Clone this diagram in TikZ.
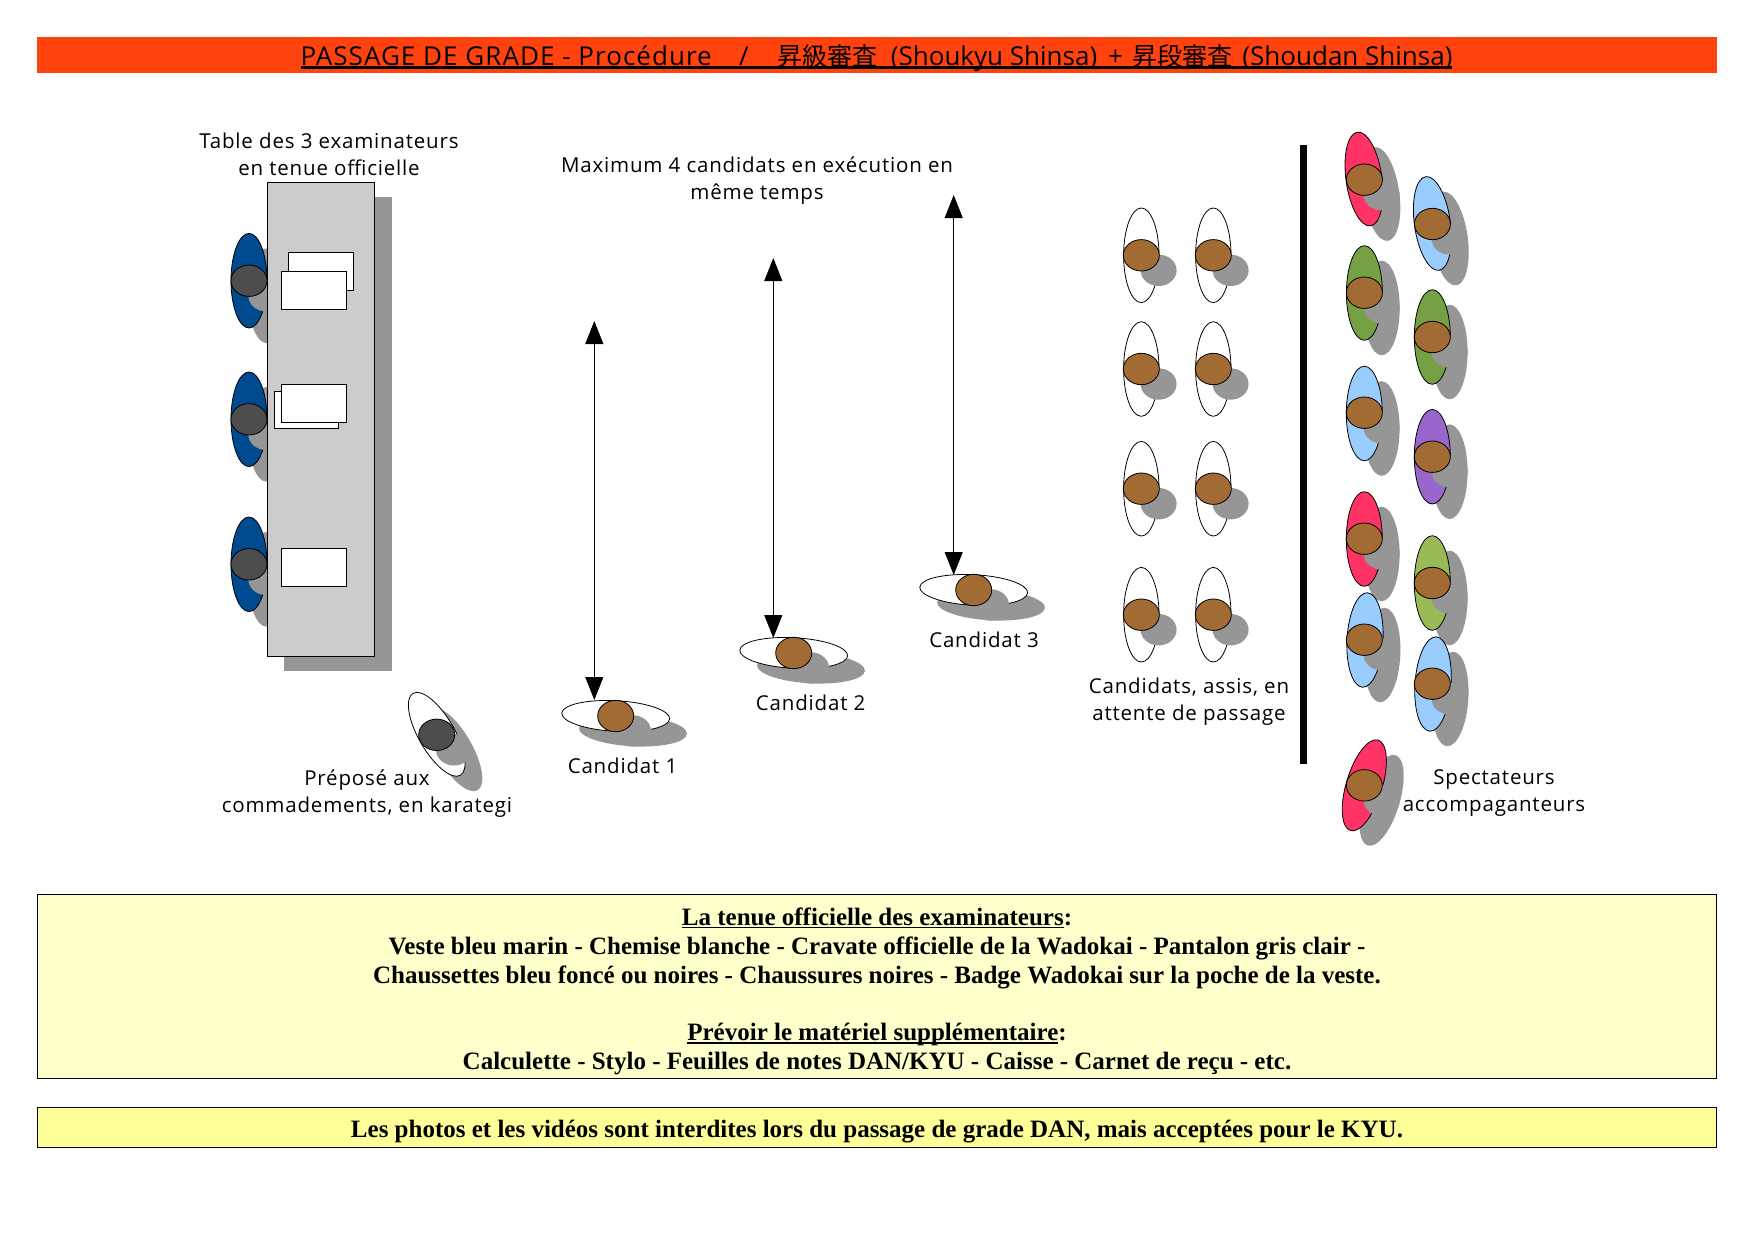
\documentclass[tikz,border=0pt]{standalone}
\usepackage{fontspec}
\usetikzlibrary{arrows.meta}
\setmainfont{Liberation Serif}
\newfontfamily\comic[LetterSpace=4]{Open Sans}
\newfontfamily\comictitle[LetterSpace=4]{Open Sans}
\newfontfamily\comicnarrow{Open Sans}
\newfontfamily\cjk{Noto Sans CJK JP}
\definecolor{titlebar}{HTML}{FF420E}
\definecolor{paleyellow}{HTML}{FFFFCC}
\definecolor{midyellow}{HTML}{FFFF99}
\definecolor{shadowgray}{HTML}{969696}
\definecolor{tablegray}{HTML}{CCCCCC}
\definecolor{navy}{HTML}{004A8F}
\definecolor{brownhead}{HTML}{A16B33}
\definecolor{darkhead}{HTML}{4D4D4D}
\definecolor{pinkbody}{HTML}{FF3366}
\definecolor{bluebody}{HTML}{99CCFF}
\definecolor{greenbody}{HTML}{76A044}
\definecolor{lightgreenbody}{HTML}{99BB55}
\definecolor{purplebody}{HTML}{9966CC}
\newcommand\ulbox[2]{\setbox0=\hbox{#2}\leavevmode\rlap{\raisebox{-3pt}{\rule{\wd0}{#1}}}\box0 }
% body x, body y, angle, x radius, y radius, head x, head y, body colour, head colour
\newcommand\person[9]{%
  \fill[shadowgray,rotate around={#3:(#1+17.3,#2+15)}] (#1+17.3,#2+15) ellipse [x radius=#4,y radius=#5];
  \draw[outline,fill=#8,rotate around={#3:(#1,#2)}] (#1,#2) ellipse [x radius=#4,y radius=#5];
  \fill[shadowgray] (#6+17.3,#7+15) ellipse [x radius=18,y radius=15.7];
  \draw[outline,fill=#9] (#6,#7) ellipse [x radius=18,y radius=15.7];
}
% seated: no body shadow
\newcommand\seated[2]{%
  \draw[outline,fill=white] (#1,#2) ellipse [x radius=17.7,y radius=47.3];
  \fill[shadowgray] (#1+17.3,#2+15) ellipse [x radius=18,y radius=15.7];
  \draw[outline,fill=brownhead] (#1,#2) ellipse [x radius=18,y radius=15.7];
}
\tikzset{
  outline/.style={draw=black,line width=0.8pt},
  label/.style={font=\comic\fontsize{20.5}{27}\selectfont,align=center,inner sep=0pt},
  paper/.style={draw=black,line width=0.8pt,fill=white},
  infobox/.style={draw=black,line width=0.8pt,inner sep=0pt},
  infotext/.style={inner sep=0pt,align=center,font=\bfseries\fontsize{25}{28.8}\selectfont},
  travel/.style={draw=black,line width=0.9pt,{Triangle[width=18pt,length=23pt]}-{Triangle[width=18pt,length=23pt]}},
}
\begin{document}
\begin{tikzpicture}[x=1pt,y=-1pt]
\useasboundingbox (0,0) rectangle (1754,1240);
\fill[white] (0,0) rectangle (1754,1240);

% title
\node[fill=titlebar,minimum width=1680pt,minimum height=36pt,inner sep=0pt] (titlebg) at (877,54.9) {};
\node[inner sep=0pt,font=\comictitle\fontsize{26}{30}\selectfont] (title) at (876.5,58.5)
  {\ulbox{2.4pt}{PASSAGE DE GRADE - Procédure\hspace{4pt}\ \ \ /\hspace{5pt}\ \ \ {\cjk\fontsize{25}{30}\selectfont 昇級審査}\hspace{6pt} {\comicnarrow (Shoukyu Shinsa)}\hspace{3pt} + \hspace{2pt}{\cjk\fontsize{25}{30}\selectfont 昇段審査}\hspace{2pt} {\comicnarrow (Shoudan Shinsa)}}};

% examiners
\person{249}{280.7}{0}{18}{47.3}{249}{280.7}{navy}{darkhead}
\person{249}{419.3}{0}{18}{47.3}{249}{419.3}{navy}{darkhead}
\person{249}{564.3}{0}{18}{47.3}{249}{564.3}{navy}{darkhead}

% table
\fill[shadowgray] (284,197) rectangle (392,670.7);
\draw[outline,fill=tablegray] (267.3,182.3) rectangle (374.3,656.3);
\draw[paper] (288,252.3) rectangle (353.5,290.3);
\draw[paper] (281.7,271.3) rectangle (346.4,309.3);
\draw[paper] (274.3,391.3) rectangle (338.7,428.7);
\draw[paper] (281.3,384.3) rectangle (346.3,422.3);
\draw[paper] (281.3,548.3) rectangle (346.3,586.3);

% prepose
\person{436.7}{734.3}{30}{18}{47.3}{436.7}{734.8}{white}{darkhead}

% candidates
\person{615.7}{716}{87}{15.3}{54}{615.7}{716}{white}{brownhead}
\person{793.7}{653}{87}{15.3}{54}{793.7}{653}{white}{brownhead}
\person{973.7}{590}{87}{15.3}{54}{973.7}{590}{white}{brownhead}

% arrows
\coordinate (a1top) at (594.3,321);
\coordinate (a1bot) at (594.3,700);
\coordinate (a2top) at (773.3,258);
\coordinate (a2bot) at (773.3,638);
\coordinate (a3top) at (953.7,195);
\coordinate (a3bot) at (953.7,575);
\draw[travel] (a1top) -- (a1bot);
\draw[travel] (a2top) -- (a2bot);
\draw[travel] (a3top) -- (a3bot);

% seated candidates
\seated{1141.3}{255.3}\seated{1213.3}{255.3}
\seated{1141.3}{369}\seated{1213.3}{369}
\seated{1141.3}{488.7}\seated{1213.3}{488.7}
\seated{1141.3}{614.7}\seated{1213.3}{614.7}

% barrier
\fill[black] (1300,145) rectangle (1307,764);

% spectators
\person{1364}{179}{8}{18}{47.3}{1364.4}{179.7}{pinkbody}{brownhead}
\person{1364.4}{293}{0}{18}{47.3}{1364.4}{292.7}{greenbody}{brownhead}
\person{1364.3}{413.5}{0}{18}{47.3}{1364.3}{412.7}{bluebody}{brownhead}
\person{1364.3}{539}{0}{18}{47.3}{1364.3}{538.7}{pinkbody}{brownhead}
\person{1365}{640}{-3}{18}{47.3}{1364.3}{639.7}{bluebody}{brownhead}
\person{1364.3}{785.3}{-17}{18}{47.3}{1364.3}{785.3}{pinkbody}{brownhead}
\person{1432.4}{223.5}{8}{18}{47.3}{1432.4}{224}{bluebody}{brownhead}
\person{1432.3}{337}{0}{18}{47.3}{1432.3}{337}{greenbody}{brownhead}
\person{1432.3}{456.7}{0}{18}{47.3}{1432.3}{456.7}{purplebody}{brownhead}
\person{1432.3}{583}{0}{18}{47.3}{1432.3}{583}{lightgreenbody}{brownhead}
\person{1433}{684}{-4}{18}{47.3}{1432.3}{683.7}{bluebody}{brownhead}

% labels
\node[label] (ltable) at (329,154.5) {Table des 3 examinateurs\\en tenue officielle};
\node[label] (lmax) at (757,180.5) {Maximum 4 candidats en exécution en\\même temps};
\node[label] (lprep) at (367,793.5) {Préposé aux\\commadements, en karategi};
\node[label] (lc1) at (622.5,765.5) {Candidat 1};
\node[label] (lc2) at (810.7,702.7) {Candidat 2};
\node[label] (lc3) at (984,640) {Candidat 3};
\node[label] (lseat) at (1189,702) {Candidats, assis, en\\attente de passage};
\node[label] (lspec) at (1494,793) {Spectateurs\\accompaganteurs};

% info boxes
\node[infobox,fill=paleyellow,minimum width=1679pt,minimum height=184.3pt] (info) at (877,986.2) {};
\node[infotext] (infotxt) at (877,991.3)
 {\ulbox{1.4pt}{La tenue officielle des examinateurs}:\\
  Veste bleu marin - Chemise blanche - Cravate officielle de la Wadokai - Pantalon gris clair -\\
  Chaussettes bleu foncé ou noires - Chaussures noires - Badge Wadokai sur la poche de la veste.\\[28.8pt]
  \ulbox{1.4pt}{Prévoir le matériel supplémentaire}:\\
  Calculette - Stylo - Feuilles de notes DAN/KYU - Caisse - Carnet de reçu - etc.};
\node[infobox,fill=midyellow,minimum width=1679pt,minimum height=40pt] (photo) at (877,1127.3) {};
\node[infotext] (phototxt) at (877,1132)
 {Les photos et les vidéos sont interdites lors du passage de grade DAN, mais acceptées pour le KYU.};
\end{tikzpicture}
\end{document}
